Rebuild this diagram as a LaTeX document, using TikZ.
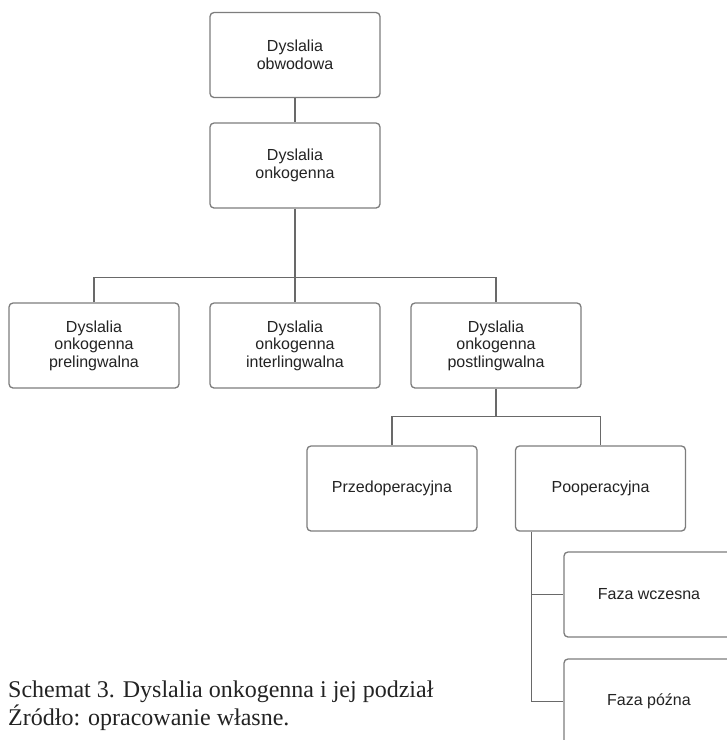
\documentclass[tikz,border=0pt]{standalone}
\usepackage{fontspec}
\setmainfont{Liberation Serif}
\setsansfont{Liberation Sans}
\usepackage{tikz}
\definecolor{boxline}{RGB}{125,125,125}
\definecolor{conline}{RGB}{105,105,105}
\definecolor{boxtext}{RGB}{35,35,35}
\begin{document}
\begin{tikzpicture}[x=1pt, y=-1pt, node distance=201pt,
  box/.style = {draw=boxline, line width=1.3pt, rounded corners=4pt, minimum width=170pt, minimum height=85pt, align=center, text=boxtext, font=\sffamily\fontsize{16}{17.5}\selectfont},
  conn/.style = {draw=conline, line width=1.1pt},
  capt/.style = {anchor=base west, inner sep=0pt, text=boxtext, font=\fontsize{24}{28}\selectfont}]
\fill[white] (0,0) rectangle (727,740);
\useasboundingbox (0,0) rectangle (727,740);
\node[box] (obw) at (295,55) {Dyslalia\\obwodowa};
\node[box] (onk) [below of=obw, node distance=110.5pt] {Dyslalia\\onkogenna};
\node[box] (inter) [below of=onk, node distance=180pt] {Dyslalia\\onkogenna\\interlingwalna};
\node[box] (pre) [left of=inter] {Dyslalia\\onkogenna\\prelingwalna};
\node[box] (post) [right of=inter] {Dyslalia\\onkogenna\\postlingwalna};
\node[box] (przed) [below of=post, node distance=143pt, xshift=-104pt] {Przedoperacyjna};
\node[box] (poop) [right of=przed, node distance=208.5pt] {Pooperacyjna};
\node[box] (wcz) [below of=poop, node distance=106pt, xshift=48.5pt] {Faza wczesna};
\node[box] (pozn) [below of=wcz, node distance=107pt] {Faza późna};
\node[capt] (cap) at (8,697) {Schemat 3. Dyslalia onkogenna i jej podział};
\node[capt] (src) at (8,725) {Źródło: opracowanie własne.};
\draw[conn] (obw) -- (onk);
\draw[conn] (onk) -- (inter);
\draw[conn] (pre.north) -- ++(0,-25) -| (post.north);
\draw[conn] (post) -- ++(0,71.5);
\draw[conn] (przed.north) -- ++(0,-29) -| (poop.north);
\draw[conn] ([xshift=16.5pt]poop.south west) coordinate (tap) |- (pozn.west);
\draw[conn] (tap |- wcz.west) -- (wcz.west);
\end{tikzpicture}
\end{document}
